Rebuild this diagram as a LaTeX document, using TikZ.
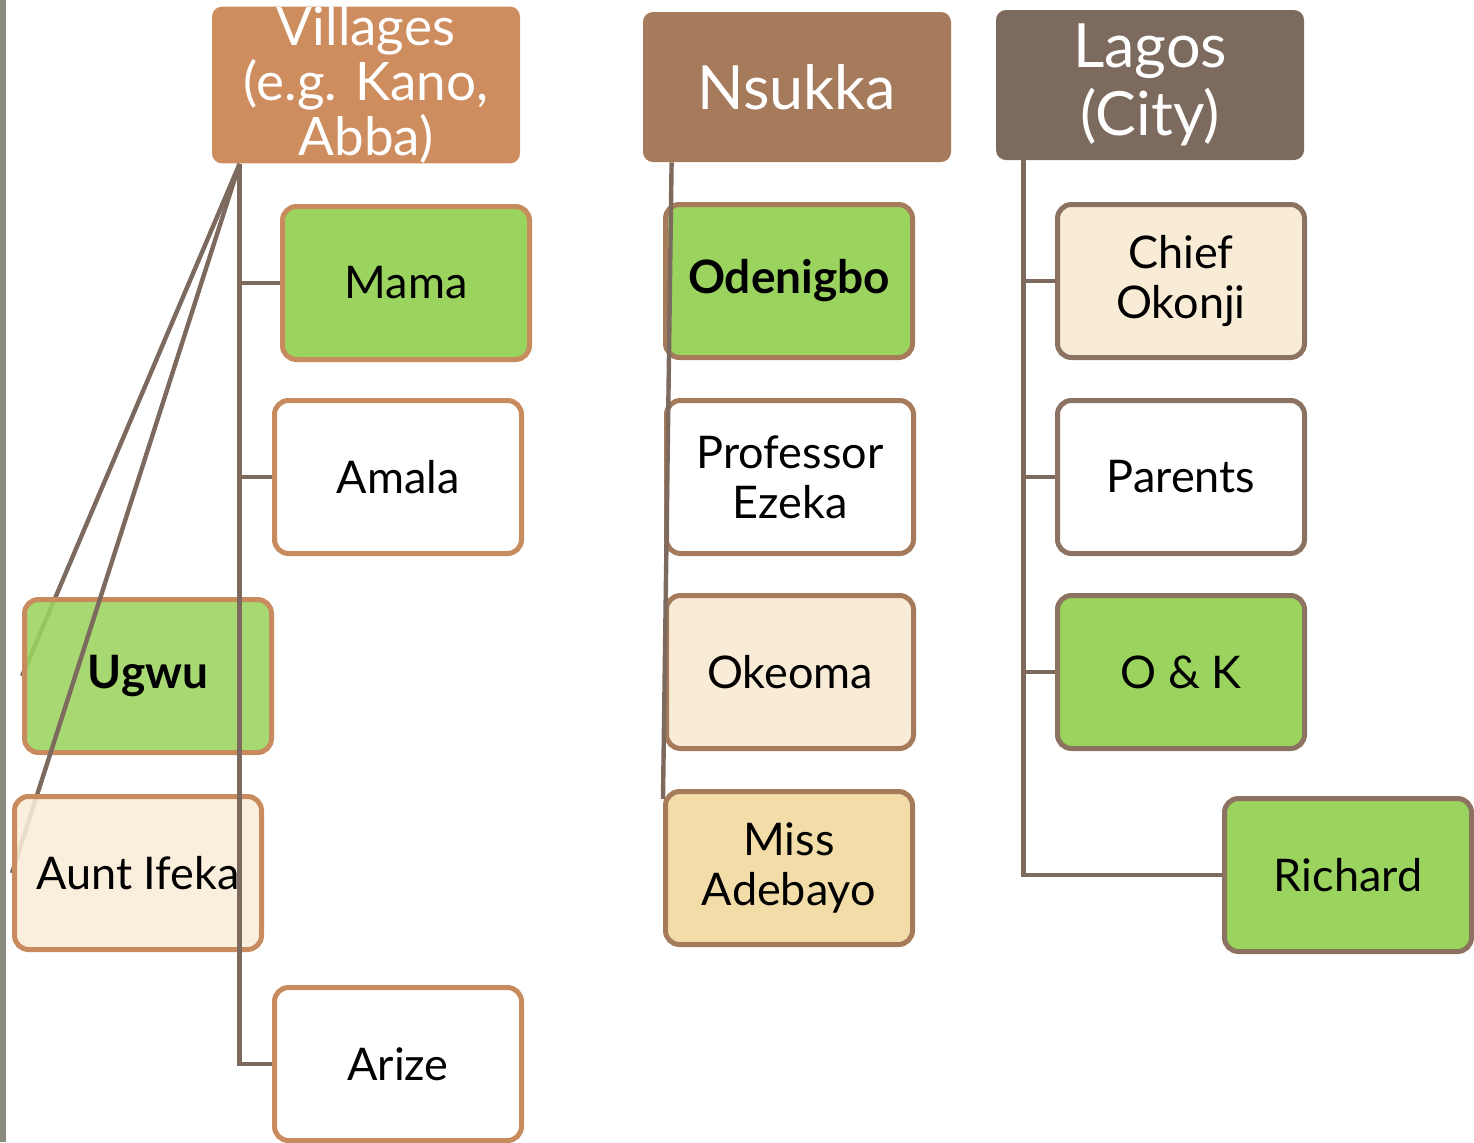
\documentclass[tikz,border=0pt]{standalone}
\usepackage{fontspec}
\setmainfont{Lato}
\usetikzlibrary{positioning}
\pgfdeclarelayer{background}
\pgfdeclarelayer{front}
\pgfdeclarelayer{top}
\pgfsetlayers{background,main,front,top}
\definecolor{vilfill}{HTML}{CD8D5F}
\definecolor{nsufill}{HTML}{A67B5B}
\definecolor{lagfill}{HTML}{7D6A5E}
\definecolor{vilbord}{HTML}{C88B5E}
\definecolor{nsubord}{HTML}{A67B5B}
\definecolor{lagbord}{HTML}{8C7260}
\definecolor{leaf}{HTML}{9BD35F}
\definecolor{cream}{HTML}{F9ECD7}
\definecolor{sand}{HTML}{F2DCA8}
\definecolor{linkcol}{HTML}{7D6A5E}
\definecolor{edgecol}{HTML}{8A8A7E}
\tikzset{
  % riquadro di un luogo
  place/.style={rounded corners=5pt, minimum width=154pt, minimum height=75pt,
    align=center, text=white, inner sep=0pt, font=\fontsize{30.5}{34}\selectfont},
  pl vil/.style={place, fill=vilfill, font=\fontsize{26.5}{27.5}\selectfont},
  pl nsu/.style={place, fill=nsufill},
  pl lag/.style={place, fill=lagfill},
  % riquadro di un personaggio
  person/.style={draw, line width=2.5pt, rounded corners=7pt, minimum width=123.5pt,
    minimum height=76.5pt, align=center, inner sep=0pt,
    font=\fontsize{22.5}{25}\selectfont},
  p vil/.style={person, draw=vilbord},
  p nsu/.style={person, draw=nsubord},
  p lag/.style={person, draw=lagbord},
  hero/.style={fill=leaf},
  heavy/.style={font=\fontsize{23}{25}\selectfont\bfseries},
  seethru/.style={fill opacity=0.88, text opacity=1},
  % collegamenti
  link/.style={draw=linkcol, line width=2.2pt},
}
\begin{document}
\begin{tikzpicture}[x=0.5pt, y=-0.5pt]
  \useasboundingbox (0,0) rectangle (1474,1142);
  \fill[edgecol] (0,0) rectangle (6,1142);
  % luoghi
  \node[pl vil] (vil) at (366,85) {Villages\\(e.g. Kano,\\Abba)};
  \node[pl nsu] (nsu) at (797,87) {Nsukka};
  \node[pl lag] (lag) at (1150,85) {Lagos\\(City)};
  % villaggi
  \node[p vil, hero] (mama) at (406,283) {Mama};
  \node[p vil, fill=white] (amala) at (398,477) {Amala};
  \node[p vil, hero, heavy, seethru] (ugwu) at (148,676) {Ugwu};
  \begin{pgfonlayer}{front}
    \node[p vil, fill=cream, seethru] (aunt) at (138,873) {Aunt Ifeka};
  \end{pgfonlayer}
  \node[p vil, fill=white] (arize) at (398,1064) {Arize};
  % Nsukka
  \node[p nsu, hero, heavy] (oden) at (789,281) {Odenigbo};
  \node[p nsu, fill=white] (prof) at (790,477) {Professor\\Ezeka};
  \node[p nsu, fill=cream] (okeo) at (790,672) {Okeoma};
  \node[p nsu, fill=sand] (miss) at (789,868) {Miss\\Adebayo};
  % Lagos
  \node[p lag, fill=cream] (chief) at (1181,281) {Chief\\Okonji};
  \node[p lag, fill=white] (parents) at (1181,477) {Parents};
  \node[p lag, hero] (ok) at (1181,672) {O \& K};
  \node[p lag, hero] (rich) at (1348,875) {Richard};
  % collegamenti
  \coordinate (vilc) at ([xshift=14pt]vil.south west);
  \coordinate (nsuc) at ([xshift=14.5pt]nsu.south west);
  \coordinate (lagc) at ([xshift=14pt]lag.south west);
  \begin{pgfonlayer}{background}
    \draw[link] (vilc) -- (ugwu.west);
  \end{pgfonlayer}
  \draw[link] (vilc) -- (aunt.west);
  \begin{pgfonlayer}{top}
    \draw[link] (vilc) |- (arize.west);
    \foreach \n in {mama, amala}
      \draw[link] (vilc |- \n.west) -- (\n.west);
    \draw[link] (nsuc) -- ([yshift=-5pt]miss.north west);
    \draw[link] (lagc) |- (rich.west);
    \foreach \n in {chief, parents, ok}
      \draw[link] (lagc |- \n.west) -- (\n.west);
  \end{pgfonlayer}
\end{tikzpicture}
\end{document}
